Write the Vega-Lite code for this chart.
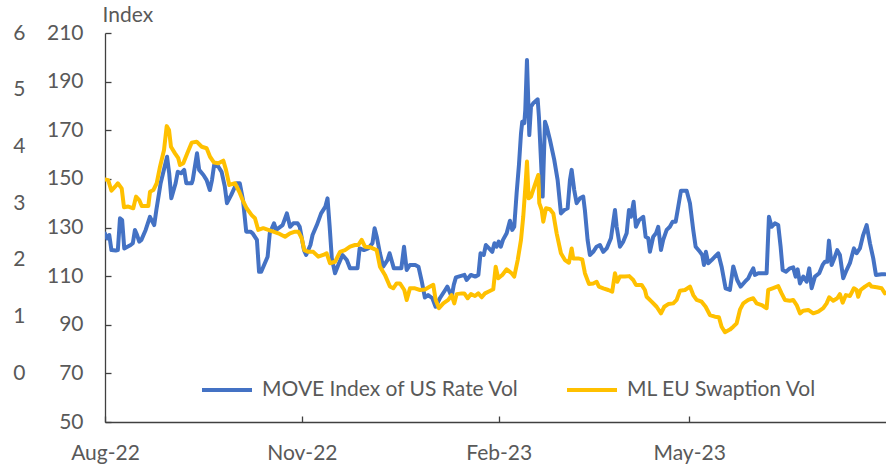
{
  "$schema": "https://vega.github.io/schema/vega-lite/v6.json",
  "width": 781,
  "height": 389,
  "autosize": {"type": "none"},
  "padding": {"left": 105, "top": 33, "right": 0, "bottom": 44},
  "background": "white",
  "config": {
    "font": "Lato",
    "view": {"stroke": null},
    "axis": {"grid": false, "labelFont": "Lato", "titleFont": "Lato"},
    "legend": {"labelFont": "Lato"}
  },
  "datasets": {
    "move": [
      {"date": "2022-08-01", "value": 127.5},
      {"date": "2022-08-02", "value": 125.5},
      {"date": "2022-08-03", "value": 126.9},
      {"date": "2022-08-04", "value": 120.7},
      {"date": "2022-08-06", "value": 120.5},
      {"date": "2022-08-07", "value": 120.7},
      {"date": "2022-08-08", "value": 133.8},
      {"date": "2022-08-09", "value": 133.1},
      {"date": "2022-08-10", "value": 121.4},
      {"date": "2022-08-13", "value": 122.8},
      {"date": "2022-08-14", "value": 123.5},
      {"date": "2022-08-15", "value": 129.0},
      {"date": "2022-08-16", "value": 126.9},
      {"date": "2022-08-17", "value": 124.2},
      {"date": "2022-08-18", "value": 124.9},
      {"date": "2022-08-20", "value": 129.0},
      {"date": "2022-08-22", "value": 134.4},
      {"date": "2022-08-24", "value": 131.0},
      {"date": "2022-08-25", "value": 137.2},
      {"date": "2022-08-27", "value": 148.2},
      {"date": "2022-08-30", "value": 159.1},
      {"date": "2022-08-31", "value": 152.3},
      {"date": "2022-09-01", "value": 142.0},
      {"date": "2022-09-03", "value": 148.2},
      {"date": "2022-09-04", "value": 152.9},
      {"date": "2022-09-05T12:00", "value": 152.3},
      {"date": "2022-09-07", "value": 153.7},
      {"date": "2022-09-08", "value": 148.2},
      {"date": "2022-09-10T12:00", "value": 148.2},
      {"date": "2022-09-11", "value": 149.5},
      {"date": "2022-09-13", "value": 160.5},
      {"date": "2022-09-14", "value": 153.7},
      {"date": "2022-09-16", "value": 151.6},
      {"date": "2022-09-17T12:00", "value": 149.5},
      {"date": "2022-09-19", "value": 145.4},
      {"date": "2022-09-20", "value": 149.5},
      {"date": "2022-09-21", "value": 155.7},
      {"date": "2022-09-23", "value": 155.0},
      {"date": "2022-09-24T12:00", "value": 152.9},
      {"date": "2022-09-26", "value": 146.8},
      {"date": "2022-09-27", "value": 140.0},
      {"date": "2022-09-29", "value": 143.4},
      {"date": "2022-10-01T12:00", "value": 148.2},
      {"date": "2022-10-03", "value": 148.2},
      {"date": "2022-10-04T12:00", "value": 141.3},
      {"date": "2022-10-06", "value": 128.3},
      {"date": "2022-10-08", "value": 128.3},
      {"date": "2022-10-09", "value": 127.6},
      {"date": "2022-10-11", "value": 124.9},
      {"date": "2022-10-12", "value": 111.8},
      {"date": "2022-10-13", "value": 111.8},
      {"date": "2022-10-16", "value": 118.0},
      {"date": "2022-10-17", "value": 127.6},
      {"date": "2022-10-19", "value": 131.7},
      {"date": "2022-10-20", "value": 129.0},
      {"date": "2022-10-23", "value": 131.0},
      {"date": "2022-10-25", "value": 135.8},
      {"date": "2022-10-26T12:00", "value": 130.3},
      {"date": "2022-10-28", "value": 131.7},
      {"date": "2022-10-30", "value": 131.7},
      {"date": "2022-10-31", "value": 130.3},
      {"date": "2022-11-02", "value": 120.7},
      {"date": "2022-11-03", "value": 118.7},
      {"date": "2022-11-05", "value": 122.8},
      {"date": "2022-11-06", "value": 126.9},
      {"date": "2022-11-08", "value": 131.0},
      {"date": "2022-11-10", "value": 135.8},
      {"date": "2022-11-12", "value": 138.6},
      {"date": "2022-11-13", "value": 142.0},
      {"date": "2022-11-14", "value": 130.3},
      {"date": "2022-11-15", "value": 117.3},
      {"date": "2022-11-16T12:00", "value": 111.2},
      {"date": "2022-11-18", "value": 114.6},
      {"date": "2022-11-20", "value": 118.7},
      {"date": "2022-11-22", "value": 116.6},
      {"date": "2022-11-23T12:00", "value": 113.2},
      {"date": "2022-11-27", "value": 113.2},
      {"date": "2022-11-28", "value": 121.4},
      {"date": "2022-11-30", "value": 120.7},
      {"date": "2022-12-02", "value": 121.4},
      {"date": "2022-12-04", "value": 123.5},
      {"date": "2022-12-05", "value": 129.7},
      {"date": "2022-12-06", "value": 126.2},
      {"date": "2022-12-07T12:00", "value": 119.4},
      {"date": "2022-12-09", "value": 113.9},
      {"date": "2022-12-11", "value": 116.6},
      {"date": "2022-12-12", "value": 119.4},
      {"date": "2022-12-14", "value": 113.2},
      {"date": "2022-12-16", "value": 113.2},
      {"date": "2022-12-17T12:00", "value": 113.2},
      {"date": "2022-12-18T18:00", "value": 122.1},
      {"date": "2022-12-20", "value": 112.5},
      {"date": "2022-12-21T12:00", "value": 114.6},
      {"date": "2022-12-24", "value": 114.6},
      {"date": "2022-12-25T12:00", "value": 113.9},
      {"date": "2022-12-27", "value": 108.0},
      {"date": "2022-12-28T12:00", "value": 101.2},
      {"date": "2022-12-30", "value": 102.2},
      {"date": "2023-01-01", "value": 100.9},
      {"date": "2023-01-02T12:00", "value": 97.4},
      {"date": "2023-01-04T12:00", "value": 100.9},
      {"date": "2023-01-07", "value": 104.3},
      {"date": "2023-01-08", "value": 105.7},
      {"date": "2023-01-10", "value": 101.5},
      {"date": "2023-01-11", "value": 106.4},
      {"date": "2023-01-12", "value": 109.5},
      {"date": "2023-01-14", "value": 110.0},
      {"date": "2023-01-16", "value": 110.5},
      {"date": "2023-01-17", "value": 108.4},
      {"date": "2023-01-19", "value": 110.5},
      {"date": "2023-01-21", "value": 109.8},
      {"date": "2023-01-22T12:00", "value": 110.5},
      {"date": "2023-01-23T12:00", "value": 119.4},
      {"date": "2023-01-25", "value": 118.7},
      {"date": "2023-01-26", "value": 122.8},
      {"date": "2023-01-27T12:00", "value": 121.4},
      {"date": "2023-01-29", "value": 120.0},
      {"date": "2023-01-30", "value": 123.5},
      {"date": "2023-01-31", "value": 122.1},
      {"date": "2023-02-01", "value": 124.2},
      {"date": "2023-02-02", "value": 122.1},
      {"date": "2023-02-03", "value": 124.9},
      {"date": "2023-02-04T17:00", "value": 127.6},
      {"date": "2023-02-06T06:00", "value": 132.8},
      {"date": "2023-02-07T08:00", "value": 129.0},
      {"date": "2023-02-08T06:00", "value": 130.3},
      {"date": "2023-02-09T09:00", "value": 144.1},
      {"date": "2023-02-10T11:00", "value": 155.7},
      {"date": "2023-02-11T10:00", "value": 168.7},
      {"date": "2023-02-12T00:00", "value": 173.5},
      {"date": "2023-02-12T23:00", "value": 172.9},
      {"date": "2023-02-13T10:00", "value": 178.3},
      {"date": "2023-02-14T05:00", "value": 198.9},
      {"date": "2023-02-14T19:00", "value": 182.4},
      {"date": "2023-02-15T07:00", "value": 168.0},
      {"date": "2023-02-16T02:00", "value": 179.7},
      {"date": "2023-02-17T03:00", "value": 181.1},
      {"date": "2023-02-19T05:00", "value": 182.7},
      {"date": "2023-02-19T19:00", "value": 175.6},
      {"date": "2023-02-20T18:00", "value": 157.8},
      {"date": "2023-02-21T13:00", "value": 142.7},
      {"date": "2023-02-22T15:00", "value": 173.5},
      {"date": "2023-02-23T10:00", "value": 171.5},
      {"date": "2023-02-24T23:00", "value": 166.0},
      {"date": "2023-02-26T23:00", "value": 157.8},
      {"date": "2023-02-28T13:00", "value": 149.5},
      {"date": "2023-03-02T02:00", "value": 135.8},
      {"date": "2023-03-03T15:00", "value": 137.2},
      {"date": "2023-03-05T05:00", "value": 137.9},
      {"date": "2023-03-06T07:00", "value": 149.5},
      {"date": "2023-03-07T02:00", "value": 153.7},
      {"date": "2023-03-08T07:00", "value": 145.4},
      {"date": "2023-03-09T10:00", "value": 140.0},
      {"date": "2023-03-10T23:00", "value": 142.0},
      {"date": "2023-03-12T12:00", "value": 142.7},
      {"date": "2023-03-13T07:00", "value": 137.0},
      {"date": "2023-03-14T13:00", "value": 124.9},
      {"date": "2023-03-15T15:00", "value": 118.7},
      {"date": "2023-03-17T04:00", "value": 120.0},
      {"date": "2023-03-18T18:00", "value": 122.1},
      {"date": "2023-03-20T07:00", "value": 122.8},
      {"date": "2023-03-21T21:00", "value": 120.0},
      {"date": "2023-03-23T11:00", "value": 121.4},
      {"date": "2023-03-25T11:00", "value": 125.6},
      {"date": "2023-03-27T08:00", "value": 137.2},
      {"date": "2023-03-28T03:00", "value": 130.3},
      {"date": "2023-03-29T16:00", "value": 122.1},
      {"date": "2023-03-31T05:00", "value": 124.2},
      {"date": "2023-04-01T19:00", "value": 127.6},
      {"date": "2023-04-02T21:00", "value": 137.2},
      {"date": "2023-04-03T19:00", "value": 134.4},
      {"date": "2023-04-05T01:00", "value": 140.6},
      {"date": "2023-04-06T03:00", "value": 130.3},
      {"date": "2023-04-07T16:00", "value": 133.1},
      {"date": "2023-04-09T13:00", "value": 134.4},
      {"date": "2023-04-10T16:00", "value": 126.2},
      {"date": "2023-04-11T21:00", "value": 125.6},
      {"date": "2023-04-12T16:00", "value": 120.0},
      {"date": "2023-04-14T05:00", "value": 126.2},
      {"date": "2023-04-15T12:00", "value": 127.6},
      {"date": "2023-04-16T13:00", "value": 130.3},
      {"date": "2023-04-17T20:00", "value": 120.7},
      {"date": "2023-04-18T21:00", "value": 124.9},
      {"date": "2023-04-20T12:00", "value": 129.0},
      {"date": "2023-04-22T00:00", "value": 130.3},
      {"date": "2023-04-23T07:00", "value": 132.4},
      {"date": "2023-04-24T17:00", "value": 132.4},
      {"date": "2023-04-25T22:00", "value": 138.6},
      {"date": "2023-04-27T04:00", "value": 145.1},
      {"date": "2023-04-29T20:00", "value": 145.1},
      {"date": "2023-05-01T09:00", "value": 140.0},
      {"date": "2023-05-02T22:00", "value": 129.0},
      {"date": "2023-05-04T01:00", "value": 122.1},
      {"date": "2023-05-06T01:00", "value": 120.0},
      {"date": "2023-05-07T03:00", "value": 118.7},
      {"date": "2023-05-07T22:00", "value": 114.6},
      {"date": "2023-05-08T20:00", "value": 120.0},
      {"date": "2023-05-09T22:00", "value": 115.3},
      {"date": "2023-05-11T12:00", "value": 116.6},
      {"date": "2023-05-13T01:00", "value": 118.0},
      {"date": "2023-05-14T14:00", "value": 119.4},
      {"date": "2023-05-16T04:00", "value": 113.9},
      {"date": "2023-05-18T01:00", "value": 105.0},
      {"date": "2023-05-20T01:00", "value": 104.3},
      {"date": "2023-05-21T15:00", "value": 114.0},
      {"date": "2023-05-23T11:00", "value": 108.4},
      {"date": "2023-05-25T01:00", "value": 105.7},
      {"date": "2023-05-27T02:00", "value": 107.7},
      {"date": "2023-05-28T15:00", "value": 109.1},
      {"date": "2023-05-29T18:00", "value": 111.2},
      {"date": "2023-05-30T23:00", "value": 113.2},
      {"date": "2023-05-31T18:00", "value": 110.5},
      {"date": "2023-06-02T07:00", "value": 111.2},
      {"date": "2023-06-06T05:00", "value": 111.2},
      {"date": "2023-06-07T07:00", "value": 134.4},
      {"date": "2023-06-08T13:00", "value": 130.3},
      {"date": "2023-06-10T02:00", "value": 131.7},
      {"date": "2023-06-11T15:00", "value": 131.0},
      {"date": "2023-06-12T18:00", "value": 122.1},
      {"date": "2023-06-13T17:00", "value": 112.5},
      {"date": "2023-06-15T06:00", "value": 111.8},
      {"date": "2023-06-17T02:00", "value": 113.2},
      {"date": "2023-06-18T15:00", "value": 113.6},
      {"date": "2023-06-19T18:00", "value": 109.8},
      {"date": "2023-06-20T17:00", "value": 112.8},
      {"date": "2023-06-21T19:00", "value": 107.0},
      {"date": "2023-06-23T08:00", "value": 109.8},
      {"date": "2023-06-24T22:00", "value": 107.7},
      {"date": "2023-06-26T03:00", "value": 113.2},
      {"date": "2023-06-27T06:00", "value": 105.0},
      {"date": "2023-06-28T19:00", "value": 109.8},
      {"date": "2023-06-30T19:00", "value": 111.2},
      {"date": "2023-07-02T09:00", "value": 114.6},
      {"date": "2023-07-03T11:00", "value": 115.9},
      {"date": "2023-07-04T13:00", "value": 115.9},
      {"date": "2023-07-05T08:00", "value": 124.6},
      {"date": "2023-07-06T14:00", "value": 114.6},
      {"date": "2023-07-08T03:00", "value": 118.0},
      {"date": "2023-07-09T05:00", "value": 120.7},
      {"date": "2023-07-10T11:00", "value": 118.7},
      {"date": "2023-07-12T00:00", "value": 109.1},
      {"date": "2023-07-13T14:00", "value": 112.5},
      {"date": "2023-07-15T03:00", "value": 115.3},
      {"date": "2023-07-17T00:00", "value": 121.4},
      {"date": "2023-07-18T06:00", "value": 119.4},
      {"date": "2023-07-19T19:00", "value": 121.4},
      {"date": "2023-07-21T08:00", "value": 126.9},
      {"date": "2023-07-22T23:00", "value": 131.0},
      {"date": "2023-07-24T12:00", "value": 123.5},
      {"date": "2023-07-26T01:00", "value": 117.3},
      {"date": "2023-07-27T07:00", "value": 110.5},
      {"date": "2023-07-29T23:00", "value": 110.8},
      {"date": "2023-07-31T12:00", "value": 110.8}
    ],
    "eu": [
      {"date": "2022-08-01", "value": 149.8},
      {"date": "2022-08-02T12:00", "value": 149.5},
      {"date": "2022-08-04", "value": 145.1},
      {"date": "2022-08-05T17:00", "value": 146.8},
      {"date": "2022-08-07", "value": 148.2},
      {"date": "2022-08-08T19:00", "value": 146.1},
      {"date": "2022-08-09T21:00", "value": 138.3},
      {"date": "2022-08-11T21:00", "value": 138.6},
      {"date": "2022-08-14T05:00", "value": 137.9},
      {"date": "2022-08-15T12:00", "value": 142.7},
      {"date": "2022-08-17T00:00", "value": 141.3},
      {"date": "2022-08-18T04:00", "value": 138.8},
      {"date": "2022-08-21T06:00", "value": 138.8},
      {"date": "2022-08-22T01:00", "value": 144.7},
      {"date": "2022-08-23T14:00", "value": 145.4},
      {"date": "2022-08-25T04:00", "value": 148.2},
      {"date": "2022-08-26T17:00", "value": 155.0},
      {"date": "2022-08-28T14:00", "value": 161.9},
      {"date": "2022-08-29T20:00", "value": 171.7},
      {"date": "2022-08-30T22:00", "value": 170.1},
      {"date": "2022-08-31T20:00", "value": 163.2},
      {"date": "2022-09-02T17:00", "value": 160.5},
      {"date": "2022-09-04T06:00", "value": 158.5},
      {"date": "2022-09-05T01:00", "value": 155.7},
      {"date": "2022-09-06T14:00", "value": 156.4},
      {"date": "2022-09-08T11:00", "value": 160.5},
      {"date": "2022-09-10T12:00", "value": 164.9},
      {"date": "2022-09-12T20:00", "value": 165.3},
      {"date": "2022-09-15T05:00", "value": 163.2},
      {"date": "2022-09-17T12:00", "value": 162.6},
      {"date": "2022-09-19T02:00", "value": 159.1},
      {"date": "2022-09-20T23:00", "value": 156.7},
      {"date": "2022-09-22T23:00", "value": 156.4},
      {"date": "2022-09-25T07:00", "value": 157.5},
      {"date": "2022-09-26T13:00", "value": 153.7},
      {"date": "2022-09-28T02:00", "value": 147.5},
      {"date": "2022-09-30T18:00", "value": 148.2},
      {"date": "2022-10-02T18:00", "value": 144.7},
      {"date": "2022-10-04T08:00", "value": 141.3},
      {"date": "2022-10-06T05:00", "value": 137.9},
      {"date": "2022-10-08T13:00", "value": 135.1},
      {"date": "2022-10-10T02:00", "value": 133.8},
      {"date": "2022-10-11T15:00", "value": 129.0},
      {"date": "2022-10-13T23:00", "value": 129.7},
      {"date": "2022-10-16T07:00", "value": 129.0},
      {"date": "2022-10-18T16:00", "value": 128.3},
      {"date": "2022-10-20T23:00", "value": 127.6},
      {"date": "2022-10-24T03:00", "value": 126.2},
      {"date": "2022-10-26T11:00", "value": 127.6},
      {"date": "2022-10-28T19:00", "value": 128.3},
      {"date": "2022-10-30T08:00", "value": 128.3},
      {"date": "2022-10-31T22:00", "value": 125.6},
      {"date": "2022-11-02T03:00", "value": 120.7},
      {"date": "2022-11-04T00:00", "value": 120.0},
      {"date": "2022-11-06T08:00", "value": 120.0},
      {"date": "2022-11-08T16:00", "value": 118.0},
      {"date": "2022-11-11T00:00", "value": 118.7},
      {"date": "2022-11-12T14:00", "value": 119.4},
      {"date": "2022-11-14T03:00", "value": 115.3},
      {"date": "2022-11-16T12:00", "value": 115.9},
      {"date": "2022-11-18T20:00", "value": 120.0},
      {"date": "2022-11-21T04:00", "value": 120.7},
      {"date": "2022-11-23T12:00", "value": 122.1},
      {"date": "2022-11-25T20:00", "value": 122.8},
      {"date": "2022-11-27T09:00", "value": 122.8},
      {"date": "2022-11-28T23:00", "value": 124.9},
      {"date": "2022-11-30T12:00", "value": 122.1},
      {"date": "2022-12-02T20:00", "value": 121.9},
      {"date": "2022-12-05T23:00", "value": 120.7},
      {"date": "2022-12-07T12:00", "value": 113.9},
      {"date": "2022-12-09T20:00", "value": 110.5},
      {"date": "2022-12-12T04:00", "value": 105.7},
      {"date": "2022-12-13T17:00", "value": 105.0},
      {"date": "2022-12-15T07:00", "value": 107.0},
      {"date": "2022-12-16T20:00", "value": 107.0},
      {"date": "2022-12-18T21:00", "value": 104.3},
      {"date": "2022-12-20T00:00", "value": 100.2},
      {"date": "2022-12-21T13:00", "value": 105.0},
      {"date": "2022-12-23T21:00", "value": 105.0},
      {"date": "2022-12-26T05:00", "value": 104.3},
      {"date": "2022-12-28T13:00", "value": 104.5},
      {"date": "2022-12-30T21:00", "value": 105.7},
      {"date": "2023-01-01T10:00", "value": 106.4},
      {"date": "2023-01-02T13:00", "value": 100.2},
      {"date": "2023-01-04T02:00", "value": 96.8},
      {"date": "2023-01-06T02:00", "value": 98.8},
      {"date": "2023-01-08T10:00", "value": 100.2},
      {"date": "2023-01-10T00:00", "value": 102.2},
      {"date": "2023-01-11T06:00", "value": 98.8},
      {"date": "2023-01-12T08:00", "value": 102.6},
      {"date": "2023-01-14T17:00", "value": 102.9},
      {"date": "2023-01-15T22:00", "value": 102.9},
      {"date": "2023-01-17T12:00", "value": 100.9},
      {"date": "2023-01-19T01:00", "value": 102.6},
      {"date": "2023-01-20T22:00", "value": 101.8},
      {"date": "2023-01-22T11:00", "value": 102.9},
      {"date": "2023-01-24T01:00", "value": 101.3},
      {"date": "2023-01-25T14:00", "value": 102.9},
      {"date": "2023-01-27T03:00", "value": 103.6},
      {"date": "2023-01-29T11:00", "value": 104.6},
      {"date": "2023-01-30T14:00", "value": 113.9},
      {"date": "2023-01-31T19:00", "value": 109.1},
      {"date": "2023-02-02T16:00", "value": 110.5},
      {"date": "2023-02-04T17:00", "value": 112.8},
      {"date": "2023-02-07T01:00", "value": 111.2},
      {"date": "2023-02-08T06:00", "value": 109.8},
      {"date": "2023-02-09T21:00", "value": 116.6},
      {"date": "2023-02-11T10:00", "value": 124.9},
      {"date": "2023-02-12T11:00", "value": 134.4},
      {"date": "2023-02-13T14:00", "value": 148.2},
      {"date": "2023-02-14T05:00", "value": 157.1},
      {"date": "2023-02-15T00:00", "value": 142.0},
      {"date": "2023-02-16T02:00", "value": 142.7},
      {"date": "2023-02-17T15:00", "value": 146.8},
      {"date": "2023-02-19T12:00", "value": 151.6},
      {"date": "2023-02-19T23:00", "value": 140.0},
      {"date": "2023-02-21T02:00", "value": 137.2},
      {"date": "2023-02-21T20:00", "value": 132.4},
      {"date": "2023-02-23T02:00", "value": 137.9},
      {"date": "2023-02-24T23:00", "value": 137.5},
      {"date": "2023-02-26T12:00", "value": 135.8},
      {"date": "2023-02-28T02:00", "value": 127.6},
      {"date": "2023-03-02T02:00", "value": 119.4},
      {"date": "2023-03-03T23:00", "value": 116.6},
      {"date": "2023-03-05T20:00", "value": 115.5},
      {"date": "2023-03-07T02:00", "value": 121.4},
      {"date": "2023-03-07T20:00", "value": 117.3},
      {"date": "2023-03-10T04:00", "value": 117.3},
      {"date": "2023-03-12T01:00", "value": 116.9},
      {"date": "2023-03-13T07:00", "value": 111.2},
      {"date": "2023-03-15T04:00", "value": 106.8},
      {"date": "2023-03-17T04:00", "value": 107.0},
      {"date": "2023-03-18T18:00", "value": 107.7},
      {"date": "2023-03-19T20:00", "value": 105.7},
      {"date": "2023-03-21T21:00", "value": 105.0},
      {"date": "2023-03-24T05:00", "value": 104.3},
      {"date": "2023-03-26T01:00", "value": 103.6},
      {"date": "2023-03-27T08:00", "value": 111.2},
      {"date": "2023-03-28T10:00", "value": 107.7},
      {"date": "2023-03-29T16:00", "value": 109.8},
      {"date": "2023-04-01T00:00", "value": 109.8},
      {"date": "2023-04-03T00:00", "value": 110.0},
      {"date": "2023-04-04T21:00", "value": 108.4},
      {"date": "2023-04-06T03:00", "value": 106.4},
      {"date": "2023-04-08T19:00", "value": 106.4},
      {"date": "2023-04-10T08:00", "value": 104.3},
      {"date": "2023-04-11T03:00", "value": 101.5},
      {"date": "2023-04-13T11:00", "value": 99.5},
      {"date": "2023-04-15T19:00", "value": 97.4},
      {"date": "2023-04-17T20:00", "value": 94.7},
      {"date": "2023-04-19T09:00", "value": 97.4},
      {"date": "2023-04-21T06:00", "value": 98.5},
      {"date": "2023-04-23T14:00", "value": 98.8},
      {"date": "2023-04-25T04:00", "value": 100.2},
      {"date": "2023-04-26T17:00", "value": 104.0},
      {"date": "2023-04-29T01:00", "value": 104.3},
      {"date": "2023-05-01T09:00", "value": 105.7},
      {"date": "2023-05-02T22:00", "value": 102.2},
      {"date": "2023-05-04T12:00", "value": 100.2},
      {"date": "2023-05-06T20:00", "value": 99.5},
      {"date": "2023-05-08T17:00", "value": 97.4},
      {"date": "2023-05-10T17:00", "value": 94.0},
      {"date": "2023-05-13T01:00", "value": 93.3},
      {"date": "2023-05-14T22:00", "value": 93.1},
      {"date": "2023-05-16T04:00", "value": 89.2},
      {"date": "2023-05-17T18:00", "value": 86.9},
      {"date": "2023-05-20T01:00", "value": 88.0},
      {"date": "2023-05-21T15:00", "value": 89.2},
      {"date": "2023-05-23T05:00", "value": 90.6},
      {"date": "2023-05-24T18:00", "value": 96.2},
      {"date": "2023-05-26T07:00", "value": 98.8},
      {"date": "2023-05-28T15:00", "value": 100.2},
      {"date": "2023-05-30T23:00", "value": 100.9},
      {"date": "2023-06-01T13:00", "value": 98.8},
      {"date": "2023-06-03T21:00", "value": 98.1},
      {"date": "2023-06-06T05:00", "value": 96.8},
      {"date": "2023-06-06T23:00", "value": 104.3},
      {"date": "2023-06-09T00:00", "value": 105.0},
      {"date": "2023-06-11T15:00", "value": 105.9},
      {"date": "2023-06-13T05:00", "value": 102.9},
      {"date": "2023-06-14T18:00", "value": 100.2},
      {"date": "2023-06-17T02:00", "value": 99.9},
      {"date": "2023-06-18T15:00", "value": 100.2},
      {"date": "2023-06-20T06:00", "value": 98.1},
      {"date": "2023-06-21T19:00", "value": 94.7},
      {"date": "2023-06-23T08:00", "value": 95.8},
      {"date": "2023-06-25T16:00", "value": 96.1},
      {"date": "2023-06-28T00:00", "value": 94.7},
      {"date": "2023-06-30T08:00", "value": 95.4},
      {"date": "2023-07-02T16:00", "value": 96.8},
      {"date": "2023-07-04T06:00", "value": 98.8},
      {"date": "2023-07-05T11:00", "value": 101.3},
      {"date": "2023-07-07T08:00", "value": 99.9},
      {"date": "2023-07-09T05:00", "value": 100.9},
      {"date": "2023-07-10T11:00", "value": 102.6},
      {"date": "2023-07-11T18:00", "value": 99.1},
      {"date": "2023-07-13T06:00", "value": 102.2},
      {"date": "2023-07-15T03:00", "value": 101.8},
      {"date": "2023-07-17T00:00", "value": 105.0},
      {"date": "2023-07-18T06:00", "value": 104.3},
      {"date": "2023-07-19T00:00", "value": 101.5},
      {"date": "2023-07-20T03:00", "value": 104.3},
      {"date": "2023-07-22T04:00", "value": 105.7},
      {"date": "2023-07-24T04:00", "value": 106.8},
      {"date": "2023-07-25T07:00", "value": 105.7},
      {"date": "2023-07-27T15:00", "value": 105.4},
      {"date": "2023-07-29T23:00", "value": 105.0},
      {"date": "2023-07-31T12:00", "value": 102.9}
    ]
  },
  "layer": [
    {
      "data": {"name": "move"},
      "mark": {"type": "line", "strokeWidth": 4, "strokeJoin": "round", "strokeCap": "round", "clip": true},
      "encoding": {
        "x": {
          "field": "date", "type": "temporal",
          "scale": {"domain": [{"year": 2022, "month": 8, "date": 1}, {"year": 2023, "month": 8, "date": 1}]},
          "axis": {
            "title": null, "format": "%b-%y",
            "values": [{"year": 2022, "month": 8, "date": 1}, {"year": 2022, "month": 11, "date": 1}, {"year": 2023, "month": 2, "date": 1}, {"year": 2023, "month": 5, "date": 1}],
            "labelFlush": false, "labelOverlap": false,
            "domainColor": "#404040", "domainWidth": 1.3,
            "tickColor": "#404040", "tickWidth": 1.3, "tickSize": -6,
            "labelFontSize": 21, "labelColor": "#595959", "labelPadding": 26
          }
        },
        "y": {
          "field": "value", "type": "quantitative",
          "scale": {"domain": [50, 210], "nice": false, "zero": false},
          "axis": {
            "orient": "left",
            "values": [50, 70, 90, 110, 130, 150, 170, 190, 210],
            "domainColor": "#404040", "domainWidth": 1.3,
            "tickColor": "#404040", "tickWidth": 1.3, "tickSize": -6,
            "labelFontSize": 21, "labelColor": "#595959", "labelPadding": 28,
            "title": "Index", "titleAngle": 0, "titleAlign": "left", "titleBaseline": "alphabetic",
            "titleX": -3, "titleY": -12, "titleFontSize": 21, "titleFontWeight": "normal", "titleColor": "#595959"
          }
        },
        "color": {
          "datum": "MOVE Index of US Rate Vol",
          "scale": {"domain": ["MOVE Index of US Rate Vol", "ML EU Swaption Vol"], "range": ["#4472C4", "#FFC000"]},
          "legend": {
            "title": null, "orient": "none", "legendX": 95, "legendY": 330, "direction": "horizontal",
            "symbolType": "stroke", "symbolSize": 2500, "symbolStrokeWidth": 4,
            "labelFontSize": 21, "labelColor": "#595959", "labelOffset": 8, "labelLimit": 0, "columnPadding": 40, "padding": 0
          }
        }
      }
    },
    {
      "data": {"name": "eu"},
      "mark": {"type": "line", "strokeWidth": 4, "strokeJoin": "round", "strokeCap": "round", "clip": true},
      "encoding": {
        "x": {"field": "date", "type": "temporal"},
        "y": {
          "field": "value", "type": "quantitative",
          "axis": {
            "orient": "left",
            "values": [70, 93.3333, 116.6667, 140, 163.3333, 186.6667, 210],
            "labelExpr": "format((datum.value - 70) / 23.3333, '.0f')",
            "domain": false, "ticks": false, "labelOverlap": false,
            "labelFontSize": 21, "labelColor": "#595959", "labelPadding": 80,
            "title": null
          }
        },
        "color": {"datum": "ML EU Swaption Vol"}
      }
    }
  ],
  "resolve": {"scale": {"y": "shared"}, "axis": {"y": "independent"}}
}
